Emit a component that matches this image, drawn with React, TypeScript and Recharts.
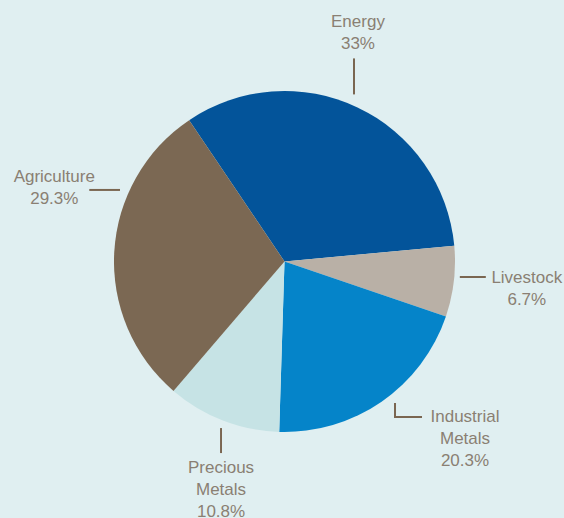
import { PieChart, Pie, Cell } from 'recharts';

const sectors = ['Energy', 'Livestock', 'Industrial Metals', 'Precious Metals', 'Agriculture'];
const shares = [33, 6.7, 20.3, 10.8, 29.3];
const shareLabels = ['33%', '6.7%', '20.3%', '10.8%', '29.3%'];
const labelLines = [['Energy'], ['Livestock'], ['Industrial', 'Metals'], ['Precious', 'Metals'], ['Agriculture']];
const colors = ['#03549a', '#b9b0a6', '#0584c9', '#c6e3e5', '#7b6853'];

const data = sectors.map((name, i) => ({ name, value: shares[i] }));

const RAD = Math.PI / 180;
const TEXT = '#8a7f73';
const LINE = '#7a6651';

// leader line points and text placement, relative to the slice's outer mid point
const layout = [
  { line: [[-3.5, -13], [-3.5, -49]], tx: 0.5, ty: -80.5 },
  { line: [[6, -4.5], [32, -4.5]], tx: 73, ty: 1.8 },
  { line: [[13.4, 1.3], [13.4, 15.3], [40.4, 15.3]], tx: 83.4, ty: 20 },
  { line: [[-1.8, 7.6], [-1.8, 32.6]], tx: -1.8, ty: 53 },
  { line: [[-25, -61.7], [5.7, -61.7]], tx: -60, ty: -70 },
];

const renderLabel = (props: any) => {
  const { cx, cy, midAngle, outerRadius, index } = props;
  const ex = cx + outerRadius * Math.cos(-midAngle * RAD);
  const ey = cy + outerRadius * Math.sin(-midAngle * RAD);
  const l = layout[index];
  const d = l.line.map((p, i) => `${i === 0 ? 'M' : 'L'}${ex + p[0]},${ey + p[1]}`).join(' ');
  const lines = [...labelLines[index], shareLabels[index]];
  return (
    <g key={`label-${index}`}>
      <path d={d} stroke={LINE} strokeWidth={2} fill="none" />
      <text
        x={ex + l.tx}
        y={ey + l.ty}
        fill={TEXT}
        textAnchor="middle"
        fontSize={17}
        fontFamily="'Liberation Sans', Arial, sans-serif"
      >
        {lines.map((t, i) => (
          <tspan key={i} x={ex + l.tx} dy={i === 0 ? 0 : 22}>
            {t}
          </tspan>
        ))}
      </text>
    </g>
  );
};

export default function App() {
  return (
    <div style={{ position: 'fixed', left: 0, top: 0, width: 564, height: 518, background: '#e0eff1' }}>
      <PieChart width={564} height={518} margin={{ top: 0, right: 0, bottom: 0, left: 0 }}>
        <Pie
          data={data}
          dataKey="value"
          nameKey="name"
          cx={284.5}
          cy={261.5}
          outerRadius={170.5}
          startAngle={124}
          endAngle={-236}
          stroke="none"
          label={renderLabel}
          labelLine={false}
          isAnimationActive={false}
        >
          {data.map((d, i) => (
            <Cell key={d.name} fill={colors[i]} />
          ))}
        </Pie>
      </PieChart>
    </div>
  );
}
